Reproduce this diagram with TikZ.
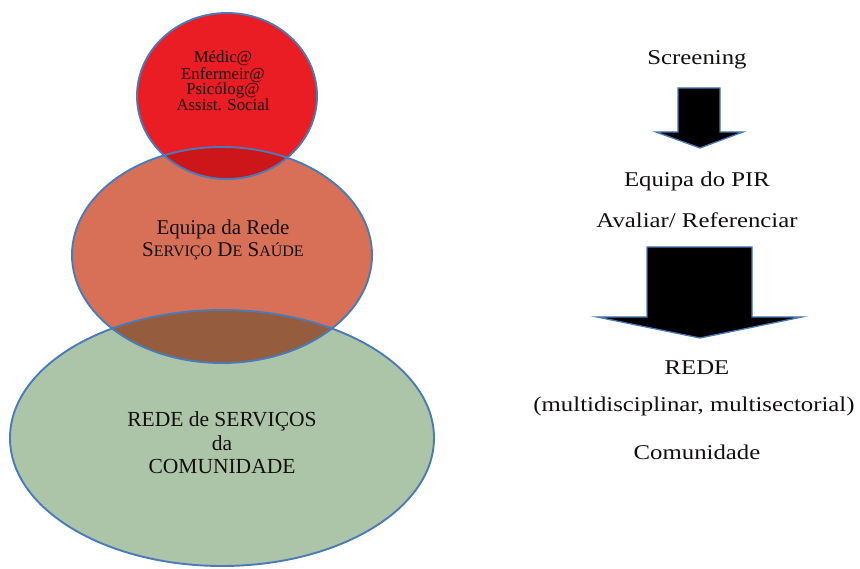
\documentclass[tikz,border=0pt]{standalone}
\usepackage{fontspec}
\setmainfont{Liberation Serif}
\newfontfamily\widefont[FakeStretch=1.18]{Liberation Serif}
\usetikzlibrary{shapes.geometric}
\definecolor{cred}{RGB}{234,28,36}
\definecolor{corange}{RGB}{216,112,88}
\definecolor{cgreen}{RGB}{172,197,168}
\definecolor{credor}{RGB}{204,22,26}
\definecolor{cbrown}{RGB}{150,92,62}
\definecolor{cline}{RGB}{74,122,184}
\definecolor{ctext}{RGB}{20,15,15}
\newcommand\fsc[2]{#1{\fontsize{16}{16}\selectfont #2}}
\tikzset{
  blob/.style={ellipse, inner sep=0pt, draw=none},
  outl/.style={draw=cline, line width=1.9pt},
  smalltxt/.style={anchor=base, inner sep=0pt, text=ctext, font=\fontsize{16.8}{17}\selectfont},
  midtxt/.style={anchor=base, inner sep=0pt, text=ctext, font=\fontsize{21}{22}\selectfont},
  bigtxt/.style={anchor=base, inner sep=0pt, text=ctext, font=\fontsize{21.5}{23}\selectfont},
  righttxt/.style={anchor=base, inner sep=0pt, text=ctext, font=\widefont\fontsize{21}{22}\selectfont},
  blockarrow/.style={fill=black, draw=cline, line width=1.3pt, line join=miter}
}
\begin{document}
\begin{tikzpicture}[x=1pt,y=-1pt]
\useasboundingbox (0,0) rectangle (860,569);
\fill[white] (0,0) rectangle (860,569);

% shapes
\node[blob, minimum width=180pt, minimum height=166pt, fill=cred] (red) at (227,96) {};
\node[blob, minimum width=300pt, minimum height=216pt, fill=corange] (orange) at (222,255) {};
\node[blob, minimum width=424pt, minimum height=256pt, fill=cgreen] (green) at (222,438) {};

% overlaps
\begin{scope}
  \clip (orange.center) ellipse [x radius=150pt, y radius=108pt];
  \fill[credor] (red.center) ellipse [x radius=90pt, y radius=83pt];
\end{scope}
\begin{scope}
  \clip (green.center) ellipse [x radius=212pt, y radius=128pt];
  \fill[cbrown] (orange.center) ellipse [x radius=150pt, y radius=108pt];
\end{scope}

% outlines
\draw[outl] (red.center) ellipse [x radius=90pt, y radius=83pt];
\draw[outl] (orange.center) ellipse [x radius=150pt, y radius=108pt];
\draw[outl] (green.center) ellipse [x radius=212pt, y radius=128pt];

% red text
\node[smalltxt] (t1) at (223,63) {Médic@};
\node[smalltxt] (t2) at (223,79.5) {Enfermeir@};
\node[smalltxt] (t3) at (223,95) {Psicólog@};
\node[smalltxt] (t4) at (223,111) {Assist. Social};

% orange text
\node[midtxt] (o1) at (223,235) {Equipa da Rede};
\node[midtxt] (o2) at (223,257) {\fsc{S}{ERVIÇO} \fsc{D}{E} \fsc{S}{AÚDE}};

% green text
\node[bigtxt] (g1) at (222,427) {REDE de SERVIÇOS};
\node[bigtxt] (g2) at (222,450) {da};
\node[bigtxt] (g3) at (222,473) {COMUNIDADE};

% right column
\node[righttxt] (r1) at (697,65) {Screening};
\node[righttxt] (r2) at (697,187) {Equipa do PIR};
\node[righttxt] (r3) at (697,228) {Avaliar/ Referenciar};
\node[righttxt] (r4) at (697,375) {REDE};
\node[righttxt] (r5) at (694,411) {(multidisciplinar, multisectorial)};
\node[righttxt] (r6) at (697,460) {Comunidade};

% block arrows
\draw[blockarrow] (678,88) -- (720,88) -- (720,132) -- (743,132) -- (700,148)
  -- (656,132) -- (678,132) -- cycle;
\draw[blockarrow] (647,247) -- (752,247) -- (752,317) -- (802,317) -- (700,338)
  -- (597,317) -- (647,317) -- cycle;
\end{tikzpicture}
\end{document}
